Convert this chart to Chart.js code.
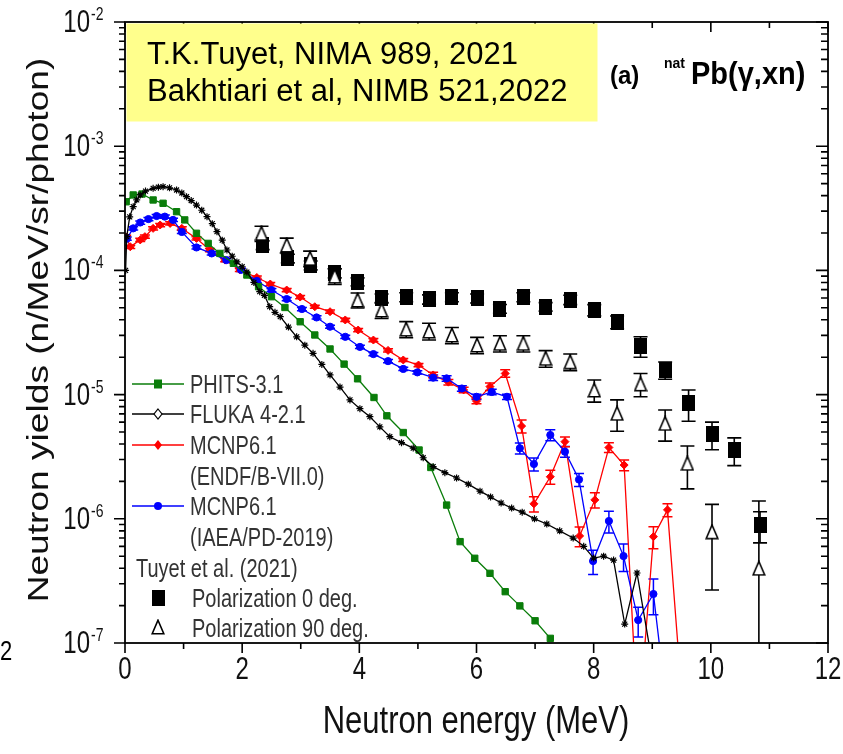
<!DOCTYPE html>
<html>
<head>
<meta charset="utf-8">
<script src="https://cdn.jsdelivr.net/npm/chart.js@4.4.1/dist/chart.umd.min.js"></script>
<style>
  html, body { margin: 0; padding: 0; background: #fff; }
  #wrap { width: 843px; height: 754px; position: relative; }
</style>
</head>
<body>
<div id="wrap"><canvas id="myChart"></canvas></div>
<script>
// axis ticks
const xTickLabels = [0, 2, 4, 6, 8, 10, 12];
const yDecades = [-7, -6, -5, -4, -3, -2];

// PHITS-3.1 (green)
const phitsE = [0.02,0.14,0.29,0.48,0.65,0.88,1.02,1.22,1.42,1.62,1.85,2.08,2.28,2.50,2.73,2.99,3.24,3.50,3.74,3.97,4.25,4.47,4.75,5.02,5.22,5.49,5.72,5.97,6.23,6.49,6.74,7.00,7.26];
const phitsY = [3.57e-4,4.05e-4,4.12e-4,3.69e-4,3.47e-4,2.97e-4,2.55e-4,1.99e-4,1.65e-4,1.37e-4,1.14e-4,9.18e-5,7.39e-5,6.14e-5,5.03e-5,3.86e-5,3.02e-5,2.33e-5,1.76e-5,1.34e-5,9.48e-6,6.75e-6,4.95e-6,3.58e-6,2.59e-6,1.29e-6,6.55e-7,4.81e-7,3.64e-7,2.59e-7,1.99e-7,1.51e-7,1.09e-7];

// FLUKA 4-2.1 (black)
const flukaE = [0.01,0.03,0.08,0.14,0.20,0.26,0.35,0.48,0.57,0.65,0.76,0.88,0.97,1.05,1.13,1.22,1.31,1.40,1.49,1.57,1.66,1.74,1.83,1.91,2.00,2.08,2.20,2.30,2.38,2.47,2.56,2.65,2.79,2.93,3.07,3.21,3.36,3.50,3.67,3.84,4.01,4.18,4.35,4.52,4.72,4.92,5.09,5.26,5.46,5.66,5.86,6.06,6.24,6.42,6.60,6.78,6.99,7.20,7.42,7.65,7.83,8.00,8.17,8.34,8.53,8.74,9.05];
const flukaY = [1.0e-4,1.87e-4,2.7e-4,3.26e-4,3.7e-4,4.05e-4,4.35e-4,4.58e-4,4.68e-4,4.72e-4,4.62e-4,4.44e-4,4.2e-4,3.92e-4,3.65e-4,3.36e-4,3.05e-4,2.71e-4,2.38e-4,2.05e-4,1.75e-4,1.46e-4,1.3e-4,1.17e-4,1.07e-4,9.7e-5,8.0e-5,6.74e-5,6.3e-5,5.1e-5,4.6e-5,4.24e-5,3.5e-5,2.92e-5,2.5e-5,2.15e-5,1.75e-5,1.44e-5,1.15e-5,9.06e-6,7.7e-6,6.64e-6,5.5e-6,4.58e-6,4.1e-6,3.71e-6,3.1e-6,2.63e-6,2.35e-6,2.13e-6,1.9e-6,1.67e-6,1.5e-6,1.34e-6,1.22e-6,1.13e-6,1.0e-6,9.08e-7,8.0e-7,7.0e-7,6.0e-7,4.83e-7,5.0e-7,4.65e-7,1.42e-7,3.66e-7,5e-8];

// MCNP6.1 (ENDF/B-VII.0) (red)
const endfE = [0.02,0.09,0.26,0.34,0.48,0.60,0.77,0.97,1.22,1.45,1.71,1.96,2.25,2.48,2.76,2.99,3.24,3.50,3.76,3.98,4.24,4.49,4.75,5.01,5.26,5.52,5.78,6.00,6.23,6.49,6.77,6.98,7.26,7.51,7.76,8.02,8.26,8.52,8.76,9.02,9.26,9.52];
const endfY = [1.86e-4,1.55e-4,1.76e-4,1.87e-4,2.18e-4,2.32e-4,2.39e-4,2.18e-4,1.81e-4,1.46e-4,1.21e-4,1.01e-4,8.77e-5,7.77e-5,6.95e-5,6.1e-5,5.1e-5,4.65e-5,3.99e-5,3.31e-5,2.75e-5,2.27e-5,1.9e-5,1.73e-5,1.44e-5,1.26e-5,1.09e-5,8.87e-6,1.16e-5,1.48e-5,5.58e-6,1.32e-6,2.18e-6,4.18e-6,7.28e-7,1.42e-6,3.75e-6,2.71e-6,2e-8,7.18e-7,1.18e-6,3e-8];
const endfRelErr = [0.03,0.03,0.03,0.03,0.03,0.03,0.03,0.03,0.03,0.03,0.03,0.03,0.03,0.03,0.03,0.03,0.03,0.03,0.03,0.03,0.03,0.03,0.03,0.03,0.05,0.05,0.05,0.05,0.07,0.07,0.12,0.14,0.13,0.09,0.18,0.14,0.09,0.1,0,0.2,0.12,0];

// MCNP6.1 (IAEA/PD-2019) (blue)
const iaeaE = [0.03,0.14,0.26,0.40,0.54,0.68,0.82,0.97,1.22,1.48,1.73,1.98,2.25,2.50,2.76,3.02,3.27,3.50,3.76,4.01,4.24,4.49,4.75,4.99,5.26,5.49,5.75,6.00,6.26,6.52,6.74,6.98,7.26,7.51,7.75,7.99,8.26,8.51,8.76,9.02,9.27];
const iaeaY = [1.8e-4,2.18e-4,2.43e-4,2.59e-4,2.74e-4,2.71e-4,2.55e-4,2.04e-4,1.53e-4,1.37e-4,1.21e-4,1.01e-4,8.22e-5,6.95e-5,5.88e-5,4.89e-5,4.18e-5,3.52e-5,2.92e-5,2.42e-5,2.12e-5,1.86e-5,1.61e-5,1.51e-5,1.37e-5,1.35e-5,1.12e-5,9.6e-6,1.05e-5,9.6e-6,3.7e-6,2.76e-6,4.73e-6,3.47e-6,2.07e-6,4.57e-7,9.6e-7,5.01e-7,1.53e-7,2.48e-7,2.5e-8];
const iaeaRelErr = [0.03,0.03,0.03,0.03,0.03,0.03,0.03,0.03,0.03,0.03,0.03,0.03,0.03,0.03,0.03,0.03,0.03,0.03,0.03,0.03,0.03,0.03,0.03,0.03,0.05,0.05,0.05,0.05,0.05,0.05,0.1,0.12,0.1,0.1,0.12,0.22,0.2,0.25,0.27,0.32,0];

// Tuyet et al. (2021), polarization 0 deg (filled squares)
const pol0E = [2.35,2.78,3.17,3.58,3.97,4.38,4.80,5.19,5.58,6.01,6.40,6.80,7.18,7.60,8.01,8.40,8.80,9.22,9.62,10.02,10.40,10.84];
const pol0Y = [1.60e-4,1.25e-4,1.10e-4,9.5e-5,8.1e-5,5.96e-5,6.1e-5,5.85e-5,6.1e-5,5.96e-5,4.92e-5,6.1e-5,5.1e-5,5.8e-5,4.8e-5,3.84e-5,2.46e-5,1.58e-5,8.5e-6,4.8e-6,3.58e-6,8.9e-7];
const pol0Err = [1.3e-5,1.0e-5,9e-6,8e-6,6e-6,5e-6,5e-6,5e-6,5e-6,5e-6,4e-6,5e-6,4e-6,5e-6,5e-6,4.5e-6,4.6e-6,2.5e-6,2.4e-6,1.2e-6,9e-7,2.5e-7];

// Tuyet et al. (2021), polarization 90 deg (open triangles)
const pol90E = [2.33,2.76,3.16,3.58,3.97,4.38,4.80,5.19,5.58,6.01,6.40,6.80,7.18,7.60,8.01,8.40,8.80,9.22,9.60,10.02,10.82];
const pol90Y = [1.99e-4,1.60e-4,1.25e-4,9.0e-5,5.78e-5,4.8e-5,3.37e-5,3.25e-5,3.02e-5,2.51e-5,2.59e-5,2.59e-5,1.96e-5,1.84e-5,1.09e-5,7.07e-6,1.22e-5,5.87e-6,2.8e-6,7.87e-7,4.0e-7];
const pol90Err = [2.8e-5,2.2e-5,1.8e-5,1.3e-5,8e-6,7e-6,5e-6,5e-6,4.5e-6,3.8e-6,3.9e-6,3.9e-6,3e-6,2.8e-6,2.2e-6,2.0e-6,2.6e-6,1.65e-6,1.06e-6,5.2e-7,9.9e-7];

const FONT = '"Liberation Sans", Arial, sans-serif';
const STRETCH = 1.28;   // the source figure is stretched vertically

const toPoints = (xs, ys) => xs.map((x, i) => ({ x: x, y: ys[i] }));

function squareMarker(w, h) {
    const c = document.createElement('canvas');
    c.width = w; c.height = h;
    const g = c.getContext('2d');
    g.fillStyle = '#000';
    g.fillRect(0, 0, w, h);
    return c;
}
function triangleMarker(w, h) {
    const c = document.createElement('canvas');
    c.width = w; c.height = h;
    const g = c.getContext('2d');
    g.beginPath();
    g.moveTo(w / 2, 1.2);
    g.lineTo(w - 1.2, h - 1.2);
    g.lineTo(1.2, h - 1.2);
    g.closePath();
    g.fillStyle = '#fff';
    g.fill();
    g.lineWidth = 1.6;
    g.strokeStyle = '#000';
    g.stroke();
    return c;
}
const sqMark = squareMarker(13, 16);
const triMark = triangleMarker(14, 16);

function stext(ctx, str, x, y, size, o) {
    o = o || {};
    ctx.save();
    ctx.translate(x, y);
    if (o.rot) ctx.rotate(-Math.PI / 2);
    ctx.scale(o.sx || 1, o.sy || 1);
    ctx.font = (o.bold ? 'bold ' : '') + size + 'px ' + FONT;
    ctx.textAlign = o.align || 'left';
    ctx.textBaseline = o.base || 'alphabetic';
    ctx.fillStyle = o.color || '#000';
    ctx.fillText(str, 0, 0);
    ctx.restore();
}

// vertical error bars, drawn under the markers
const errorBars = {
    id: 'errorBars',
    beforeDatasetsDraw(chart) {
        const ctx = chart.ctx, a = chart.chartArea;
        const ys = chart.scales.y, xs = chart.scales.x;
        ctx.save();
        ctx.beginPath();
        ctx.rect(a.left, a.top, a.right - a.left, a.bottom - a.top);
        ctx.clip();
        chart.data.datasets.forEach(ds => {
            if (!ds.sigma) return;
            ctx.strokeStyle = ds.errColor;
            ctx.lineWidth = ds.errWidth;
            ds.data.forEach((p, i) => {
                const s = ds.sigma[i];
                if (!s) return;
                const px = xs.getPixelForValue(p.x);
                const top = ys.getPixelForValue(p.y + s);
                const lo = p.y - s;
                const bot = lo > 0 ? ys.getPixelForValue(lo) : a.bottom + 5;
                ctx.beginPath();
                ctx.moveTo(px, top); ctx.lineTo(px, bot);
                ctx.moveTo(px - ds.cap, top); ctx.lineTo(px + ds.cap, top);
                if (lo > 0) { ctx.moveTo(px - ds.cap, bot); ctx.lineTo(px + ds.cap, bot); }
                ctx.stroke();
            });
        });
        ctx.restore();
    }
};

// frame, ticks, labels, legend and note box in Origin style
const decor = {
    id: 'decor',
    afterDraw(chart) {
        const ctx = chart.ctx, a = chart.chartArea;
        const xs = chart.scales.x, ys = chart.scales.y;
        ctx.save();
        ctx.strokeStyle = '#000';
        ctx.lineWidth = 1.8;
        ctx.strokeRect(a.left, a.top, a.right - a.left, a.bottom - a.top);

        // x ticks: outward at bottom, inward at top
        ctx.lineWidth = 1.6;
        for (let v = 0; v <= 12; v++) {
            const px = xs.getPixelForValue(v);
            const len = v % 2 === 0 ? 10 : 6;
            ctx.beginPath();
            ctx.moveTo(px, a.bottom); ctx.lineTo(px, a.bottom + len);
            ctx.moveTo(px, a.top); ctx.lineTo(px, a.top + len);
            ctx.stroke();
        }
        // y ticks: outward at left, inward at right
        yDecades.forEach(d => {
            for (let m = 1; m <= 9; m++) {
                if (d === yDecades[yDecades.length - 1] && m > 1) break;
                const py = ys.getPixelForValue(m * Math.pow(10, d));
                const len = m === 1 ? 11 : 6;
                ctx.beginPath();
                ctx.moveTo(a.left, py); ctx.lineTo(a.left - len, py);
                ctx.moveTo(a.right, py); ctx.lineTo(a.right - len - 1, py);
                ctx.stroke();
            }
        });

        // tick labels
        xTickLabels.forEach(v => {
            stext(ctx, String(v), xs.getPixelForValue(v), 679, 24, { align: 'center', sy: STRETCH, color: '#111' });
        });
        yDecades.forEach(d => {
            const py = ys.getPixelForValue(Math.pow(10, d));
            stext(ctx, '10', 90, py + 10, 24, { align: 'right', sy: STRETCH, color: '#111' });
            stext(ctx, '-' + Math.abs(d), 91, py - 2, 14, { sy: STRETCH, color: '#111' });
        });

        // axis titles
        stext(ctx, 'Neutron energy (MeV)', 476, 733, 31, { align: 'center', sy: STRETCH, color: '#111' });
        stext(ctx, 'Neutron yields (n/MeV/sr/photon)', 40, 330, 29, { rot: true, align: 'center', base: 'middle', sx: STRETCH, color: '#111' });

        // stray label at the left edge of the slide
        stext(ctx, '2', 0, 660, 22, { sy: STRETCH });

        // panel label
        stext(ctx, '(a)', 610, 84, 24, { bold: true, sy: 1.1 });
        stext(ctx, 'nat', 664, 68, 14, { bold: true, sy: 1.1 });
        stext(ctx, 'Pb(\u03B3,xn)', 691, 84, 29, { bold: true, sy: 1.05 });

        // note box
        ctx.fillStyle = '#ffff8c';
        ctx.fillRect(a.left + 1.5, a.top + 1.5, 471, 98);
        stext(ctx, 'T.K.Tuyet, NIMA 989, 2021', 147, 64, 31);
        stext(ctx, 'Bakhtiari et al, NIMB 521,2022', 147, 101, 31);

        // legend
        const lx0 = 132, lx1 = 184, mx = 158, tx = 190;
        const rows = [
            { y: 384, color: '#0a7d0a', mark: 'rect', text: 'PHITS-3.1' },
            { y: 414, color: '#000', mark: 'diamondOpen', text: 'FLUKA 4-2.1' },
            { y: 445, color: '#ff0000', mark: 'diamond', text: 'MCNP6.1' },
            { y: 476, text: '(ENDF/B-VII.0)' },
            { y: 506, color: '#0000ff', mark: 'circle', text: 'MCNP6.1' },
            { y: 537, text: '(IAEA/PD-2019)' }
        ];
        rows.forEach(r => {
            if (r.color) {
                ctx.strokeStyle = r.color;
                ctx.lineWidth = 1.5;
                ctx.beginPath(); ctx.moveTo(lx0, r.y); ctx.lineTo(lx1, r.y); ctx.stroke();
                ctx.fillStyle = r.color;
                ctx.beginPath();
                if (r.mark === 'rect') ctx.rect(mx - 4, r.y - 4.5, 8, 9);
                else if (r.mark === 'circle') ctx.arc(mx, r.y, 4, 0, Math.PI * 2);
                else { ctx.moveTo(mx, r.y - 5); ctx.lineTo(mx + 4, r.y); ctx.lineTo(mx, r.y + 5); ctx.lineTo(mx - 4, r.y); ctx.closePath(); }
                if (r.mark === 'diamondOpen') { ctx.fillStyle = '#fff'; ctx.fill(); ctx.lineWidth = 1.2; ctx.stroke(); }
                else ctx.fill();
            }
            stext(ctx, r.text, tx, r.y + 9, 20, { sy: STRETCH, color: '#333' });
        });
        stext(ctx, 'Tuyet et al. (2021)', 136, 577, 20, { sy: STRETCH, color: '#333' });
        ctx.drawImage(sqMark, mx - 6, 598 - 8);
        stext(ctx, 'Polarization 0 deg.', tx + 2, 607, 20, { sy: STRETCH, color: '#333' });
        ctx.drawImage(triMark, mx - 7, 628 - 9);
        stext(ctx, 'Polarization 90 deg.', tx + 2, 637, 20, { sy: STRETCH, color: '#333' });
        ctx.restore();
    }
};

const simLine = (label, xs, ys, color, style, radius, fill) => ({
    label: label,
    data: toPoints(xs, ys),
    borderColor: color,
    backgroundColor: fill,
    borderWidth: 1.3,
    pointStyle: style,
    pointRadius: radius,
    pointBorderColor: color,
    pointBackgroundColor: fill,
    pointBorderWidth: 1,
    tension: 0,
    clip: 0
});

const green = simLine('PHITS-3.1', phitsE, phitsY, '#0a7d0a', 'rect', 4.5, '#0a7d0a');
const black = simLine('FLUKA 4-2.1', flukaE, flukaY, '#000', 'star', 3.5, '#fff');
black.pointBorderWidth = 1.2;
const red = simLine('MCNP6.1 (ENDF/B-VII.0)', endfE, endfY, '#ff0000', 'rectRot', 4, '#ff0000');
red.sigma = endfY.map((v, i) => v * endfRelErr[i]);
red.errColor = '#ff0000'; red.errWidth = 1.5; red.cap = 5;
const blue = simLine('MCNP6.1 (IAEA/PD-2019)', iaeaE, iaeaY, '#0000ff', 'circle', 3.6, '#0000ff');
blue.sigma = iaeaY.map((v, i) => v * iaeaRelErr[i]);
blue.errColor = '#0000ff'; blue.errWidth = 1.5; blue.cap = 5;

new Chart('myChart', {
    type: 'line',
    data: {
        datasets: [
            {
                label: 'Polarization 90 deg.',
                data: toPoints(pol90E, pol90Y),
                showLine: false,
                pointStyle: triMark,
                sigma: pol90Err, errColor: '#000', errWidth: 1.6, cap: 7,
                clip: 0
            },
            {
                label: 'Polarization 0 deg.',
                data: toPoints(pol0E, pol0Y),
                showLine: false,
                pointStyle: sqMark,
                sigma: pol0Err, errColor: '#000', errWidth: 1.6, cap: 7,
                clip: 0
            },
            black, green, blue, red
        ]
    },
    options: {
        responsive: true,
        maintainAspectRatio: false,
        animation: false,
        events: [],
        layout: { padding: { left: 0, top: 22, right: 15, bottom: 0 } },
        plugins: { legend: { display: false }, tooltip: { enabled: false } },
        scales: {
            x: {
                type: 'linear', min: 0, max: 12,
                grid: { display: false }, border: { display: false },
                ticks: { display: false },
                afterFit(s) { s.height = 111; }
            },
            y: {
                type: 'logarithmic', min: 1e-7, max: 1e-2,
                grid: { display: false }, border: { display: false },
                ticks: { display: false },
                afterFit(s) { s.width = 125; }
            }
        }
    },
    plugins: [errorBars, decor]
});
</script>
</body>
</html>
